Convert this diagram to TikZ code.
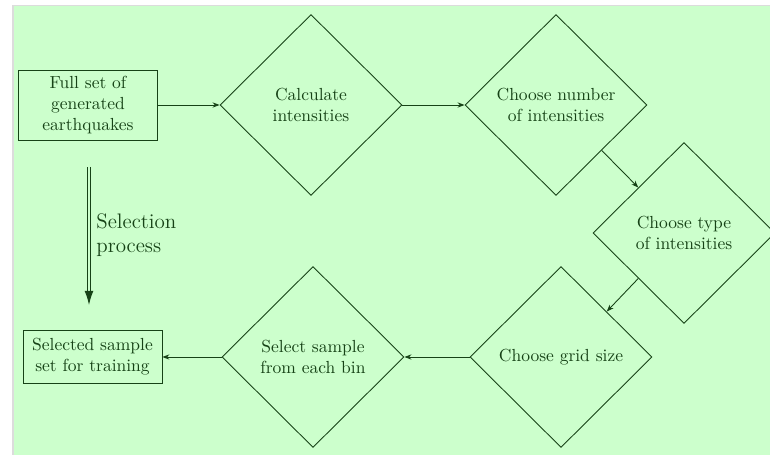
\documentclass[tikz,border=0pt]{standalone}
\usetikzlibrary{shapes.geometric,arrows.meta,calc}
\definecolor{ink}{RGB}{22,66,22}
\definecolor{paper}{RGB}{204,255,204}
\definecolor{rim}{RGB}{220,220,220}
\begin{document}
\begin{tikzpicture}[x=0.5714pt,y=-0.5714pt,
  every node/.style={text=ink,font=\normalsize},
  decision/.style={diamond,draw=ink,line width=0.5pt,align=center,
    minimum width=104pt,minimum height=103.4pt,inner sep=1pt},
  block/.style={rectangle,draw=ink,line width=0.5pt,align=center,inner sep=2pt},
  flow/.style={draw=ink,line width=0.5pt,-{Stealth[length=4pt,width=3pt]}}]
  % canvas
  \useasboundingbox (0,0) rectangle (770,455);
  \fill[rim] (12,5) rectangle (770,455);
  \fill[paper] (13.5,6.5) rectangle (770,455);

  % nodes
  \node[block,minimum width=79pt,minimum height=40pt] (full) at (88,105)
    {Full set of\\generated\\earthquakes};
  \node[decision] (calc) at (311,105) {Calculate\\intensities};
  \node[decision] (num) at (556,105) {Choose number\\of intensities};
  \node[decision] (type) at (684,233) {Choose type\\of intensities};
  \node[decision] (grid) at (561,357) {Choose grid size};
  \node[decision] (pick) at (313,357) {Select sample\\from each bin};
  \node[block,minimum width=79.4pt,minimum height=30.3pt] (train) at (92.5,357)
    {Selected sample\\set for training};

  % connectors
  \draw[flow] (full.east) -- (calc.west);
  \draw[flow] (calc.east) -- (num.west);
  \draw[flow] ($(num.east)!.5!(num.south)$) -- ($(type.west)!.5!(type.north)$);
  \draw[flow] ($(type.west)!.5!(type.south)$) -- ($(grid.east)!.5!(grid.north)$);
  \draw[flow] (grid.west) -- (pick.east);
  \draw[flow] (pick.west) -- (train.east);

  % selection process
  \coordinate (selA) at (89,167);
  \coordinate (selB) at (89,305);
  \draw[ink,double=paper,double distance=1.2pt,line width=0.6pt,
    -{Latex[length=8pt,width=5pt]}] (selA) -- (selB);
  \node[anchor=west,align=left,font=\large,inner sep=0pt] (sellabel) at (96,235)
    {Selection\\process};
\end{tikzpicture}
\end{document}
